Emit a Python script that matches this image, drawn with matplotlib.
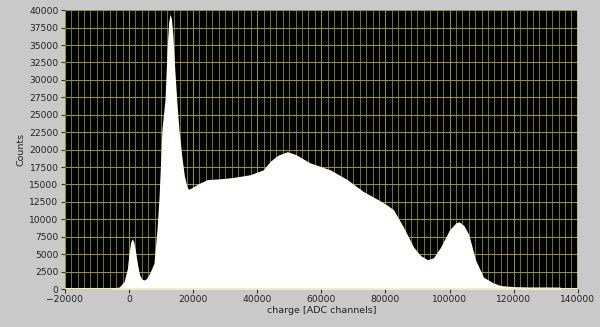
import numpy as np
import matplotlib.pyplot as plt

# charge [ADC channels] vs counts
charge = [-20000, -5500, -5000, -3000, -1500, -500, 0, 500, 1000, 1500,
          2000, 2700, 3300, 4000, 4700, 5500, 6500, 7800, 8750, 9400,
          10300, 11250, 11900, 12400, 12800, 13200, 13700, 14300, 15000,
          15600, 16500, 17300, 18100, 18600, 19500, 21250, 24400,
          28000, 32500, 37800, 41900, 44000, 46500, 49400, 52000, 56500,
          62800, 68100, 73100, 77800, 80000, 82500, 85600, 88800, 91000,
          93100, 95000, 97200, 100000, 102000, 103000, 104500, 106000,
          108100, 110600, 113750, 116000, 120000, 125000, 130000, 134500,
          134800, 140000]
counts = [0, 0, 150, 300, 1100, 2900, 5000, 6600, 7200, 6800,
          5600, 3500, 2100, 1450, 1300, 1500, 2300, 3700, 8500, 13200,
          22900, 27200, 34400, 38300, 39400, 38900, 36500, 31500, 26500,
          22900, 19000, 16200, 14700, 14300, 14500, 15000, 15700,
          15800, 16000, 16400, 17100, 18300, 19200, 19700, 19300, 18100,
          17100, 15700, 14000, 12800, 12200, 11400, 8900, 6000, 4800,
          4200, 4500, 6000, 8500, 9500, 9650, 9100, 7800,
          4200, 1700, 860, 500, 350, 300, 300, 280,
          0, 0]

x_ticks = [-20000, 0, 20000, 40000, 60000, 80000, 100000, 120000, 140000]
y_ticks = list(range(0, 40001, 2500))

fig = plt.figure(figsize=(6, 3.27), dpi=100, facecolor='#c9c9c9')
ax = fig.add_axes([0.108, 0.116, 0.855, 0.853])
ax.set_facecolor('black')

# grid: minor every 2000 on x, lines every 2500 on y
for gx in range(-20000, 140001, 2000):
    col = '#9a9a22' if gx % 20000 == 0 else '#78780e'
    ax.axvline(gx, color=col, lw=0.7, zorder=1)
for gy in y_ticks:
    ax.axhline(gy, color='#9a9a22', lw=0.7, zorder=1)

ax.fill_between(charge, counts, 0, color='white', lw=0, zorder=2)

# bright yellow zero line and right edge
ax.axhline(0, color='#f4f49c', lw=2.2, zorder=3)
ax.axvline(140000, color='#f4f49c', lw=1.8, zorder=3)

ax.set_xlim(-20000, 140000)
ax.set_ylim(0, 40000)
ax.set_xticks(x_ticks)
ax.set_yticks(y_ticks)
for s in ax.spines.values():
    s.set_visible(False)
ax.tick_params(direction='out', length=3, width=0.8, color='#333333',
               labelsize=6.6, labelcolor='#222222', pad=1.5)
ax.set_xlabel('charge [ADC channels]', fontsize=6.8, color='#222222', labelpad=1)
ax.set_ylabel('Counts', fontsize=6.8, color='#222222', labelpad=3)

fig.savefig('out.png', dpi=100, facecolor=fig.get_facecolor())
